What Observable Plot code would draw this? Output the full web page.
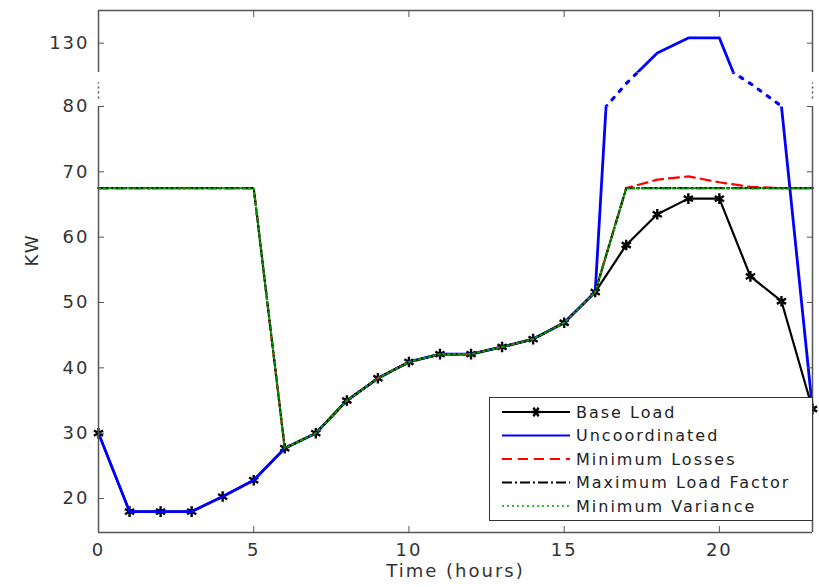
<!DOCTYPE html>
<html><head><meta charset="utf-8">
<script src="https://cdn.jsdelivr.net/npm/d3@7"></script>
<script src="https://cdn.jsdelivr.net/npm/@observablehq/plot@0.6"></script>
<style>
body{margin:0;background:#fff;}
#wrap{position:relative;width:819px;height:587px;}
#wrap svg text{letter-spacing:2px;}
#legend{position:absolute;left:489px;top:397px;}
</style></head><body><div id="wrap"></div>
<script>
// ---- data ----
const hours = [0,1,2,3,4,5,6,7,8,9,10,11,12,13,14,15,16,17,18,19,20,21,22,23];
const baseLoad      = [30,18,18,18,20.3,22.8,27.7,30,35,38.4,40.9,42.1,42.1,43.2,44.4,46.9,51.6,58.8,63.5,65.9,65.9,54,50.2,33.7];
const minLosses     = [67.5,67.5,67.5,67.5,67.5,67.5,27.7,30,35,38.4,40.9,42.1,42.1,43.2,44.4,46.9,51.6,67.5,68.8,69.3,68.4,67.7,67.5,67.5];
const maxLoadFactor = [67.5,67.5,67.5,67.5,67.5,67.5,27.7,30,35,38.4,40.9,42.1,42.1,43.2,44.4,46.9,51.6,67.5,67.5,67.5,67.5,67.5,67.5,67.5];
const minVariance   = [67.5,67.5,67.5,67.5,67.5,67.5,27.7,30,35,38.4,40.9,42.1,42.1,43.2,44.4,46.9,51.6,67.5,67.5,67.5,67.5,67.5,67.5,67.5];
// uncoordinated, including the visible kinks where it meets the axis break
const uncHours      = [0,1,2,3,4,5,6,7,8,9,10,11,12,13,14,15,16,16.35,17,18,19,20,20.45,21,22,23];
const uncoordinated = [30,18,18,18,20.3,22.8,27.7,30,35,38.4,40.9,42.1,42.1,43.2,44.4,46.9,51.6,80,110.8,128.5,130.8,130.8,125.5,110.8,80.5,33.7];
const seriesNames = ["Base Load","Uncoordinated","Minimum Losses","Maximum Load Factor","Minimum Variance"];
const xTicks = [0,5,10,15,20];
const yTicks = [20,30,40,50,60,70,80,130];

// ---- styles / scale config ----
const seriesColors = ["#000000","#0000ff","#ff0000","#000000","#00a000"];
const seriesDash = [null,null,"10,6","10,3,2,3","2,3"];
const seriesWidth = [2.2,2.8,2.2,2.2,2];
const yMin = 14.8, yMax = 135;
const gapLo = 80, gapHi = 125.5;      // broken axis: values in this band are compressed
const gapSpan = 5.19;                 // displayed height of the break, in lower-axis units
const brk = v => v <= gapLo ? v : v <= gapHi ? gapLo + (v - gapLo) * gapSpan / (gapHi - gapLo) : gapLo + gapSpan + (v - gapHi);
const yTicksT = yTicks.map(brk);      // axis ticks are given in transformed space
const yTickLabel = t => String(yTicks[yTicksT.findIndex(u => Math.abs(u - t) < 1e-9)]);
const frameColor = "#555";

const rows = hours.map((h,i)=>({hour:h, base:baseLoad[i], ml:minLosses[i], mlf:maxLoadFactor[i], mv:minVariance[i]}));
const uncRows = uncHours.map((h,i)=>({hour:h, unc:uncoordinated[i]}));

const plot = Plot.plot({
  width:819, height:587, marginLeft:98, marginRight:7, marginTop:10, marginBottom:55,
  style:{fontFamily:"'DejaVu Sans', sans-serif", fontSize:"18px", color:"#333", background:"#fff", overflow:"visible"},
  x:{domain:[0,23]},
  y:{transform:brk, domain:[brk(yMin), brk(yMax)]},
  marks:[
    Plot.line(rows,{x:"hour",y:"base",stroke:seriesColors[0],strokeWidth:seriesWidth[0]}),
    Plot.dot(rows,{x:"hour",y:"base",symbol:"asterisk",r:5,stroke:seriesColors[0],strokeWidth:2.4}),
    Plot.line(uncRows,{x:"hour",y:"unc",stroke:seriesColors[1],strokeWidth:seriesWidth[1],ariaDescription:"unc-solid"}),
    Plot.line(uncRows,{x:"hour",y:"unc",stroke:seriesColors[1],strokeWidth:3.2,strokeDasharray:"3,8",ariaDescription:"unc-gap"}),
    Plot.line(rows,{x:"hour",y:"ml",stroke:seriesColors[2],strokeWidth:seriesWidth[2],strokeDasharray:seriesDash[2]}),
    Plot.line(rows,{x:"hour",y:"mlf",stroke:seriesColors[3],strokeWidth:seriesWidth[3],strokeDasharray:seriesDash[3]}),
    Plot.line(rows,{x:"hour",y:"mv",stroke:seriesColors[4],strokeWidth:seriesWidth[4],strokeDasharray:seriesDash[4]}),
    // frame with axis break
    Plot.ruleY([yMin, yMax],{stroke:frameColor,strokeWidth:1.5}),
    Plot.ruleX([0,23],{y1:yMin,y2:gapLo,stroke:frameColor,strokeWidth:1.5}),
    Plot.ruleX([0,23],{y1:gapHi,y2:yMax,stroke:frameColor,strokeWidth:1.5}),
    Plot.ruleX([0,23],{y1:90,y2:112,stroke:frameColor,strokeWidth:1.5,strokeDasharray:"2,3"}),
    // axes
    Plot.axisX({anchor:"bottom",ticks:xTicks,tickSize:-6,tickPadding:17,label:null,stroke:frameColor,fill:"#333"}),
    Plot.axisX({anchor:"top",ticks:xTicks,tickSize:-6,tickFormat:()=>"",label:null,stroke:frameColor}),
    Plot.axisY({anchor:"left",ticks:yTicksT,tickFormat:yTickLabel,tickSize:-6,tickPadding:15,label:null,stroke:frameColor,fill:"#333"}),
    Plot.axisY({anchor:"right",ticks:yTicksT,tickSize:-6,tickFormat:()=>"",label:null,stroke:frameColor}),
    Plot.text(["Time (hours)"],{frameAnchor:"bottom",dy:44,text:d=>d,fill:"#333",fontSize:18}),
    Plot.text(["KW"],{frameAnchor:"left",dx:-66,dy:-5,rotate:-90,text:d=>d,fill:"#333",fontSize:18})
  ]
});
document.getElementById("wrap").appendChild(plot);

// clip the uncoordinated line: solid outside the break, dotted inside it
const ys = plot.scale("y");
const yLoPx = ys.apply(brk(gapLo)), yHiPx = ys.apply(brk(gapHi));
const svg = d3.select(plot);
const defs = svg.append("defs");
const outGap = defs.append("clipPath").attr("id","outGap");
outGap.append("rect").attr("x",0).attr("y",0).attr("width",819).attr("height",yHiPx);
outGap.append("rect").attr("x",0).attr("y",yLoPx).attr("width",819).attr("height",587-yLoPx);
defs.append("clipPath").attr("id","inGap").append("rect").attr("x",0).attr("y",yHiPx).attr("width",819).attr("height",yLoPx-yHiPx);
svg.select('g[aria-description="unc-solid"]').attr("clip-path","url(#outGap)");
svg.select('g[aria-description="unc-gap"]').attr("clip-path","url(#inGap)");

// legend
const lg = d3.select("#wrap").append("svg").attr("id","legend").attr("width",324).attr("height",124);
lg.append("rect").attr("x",0.5).attr("y",0.5).attr("width",323).attr("height",123).attr("fill","#fff").attr("stroke","#333").attr("stroke-width",1);
seriesNames.forEach((name,i)=>{
  const y = 15 + i*23.5;
  lg.append("line").attr("x1",13).attr("x2",81).attr("y1",y).attr("y2",y)
    .attr("stroke",seriesColors[i]).attr("stroke-width",i===4?1.5:Math.min(seriesWidth[i],2.2))
    .attr("stroke-dasharray",seriesDash[i]);
  if(i===0){
    lg.append("path").attr("transform",`translate(47,${y})`)
      .attr("d","M-5,0H5M-2.5,-4.33L2.5,4.33M-2.5,4.33L2.5,-4.33")
      .attr("stroke","#000").attr("stroke-width",2.4);
  }
  lg.append("text").attr("x",87).attr("y",y).attr("dy","0.35em")
    .attr("font-family","'DejaVu Sans', sans-serif").attr("font-size",16).attr("fill","#222")
    .text(name);
});
</script></body></html>
